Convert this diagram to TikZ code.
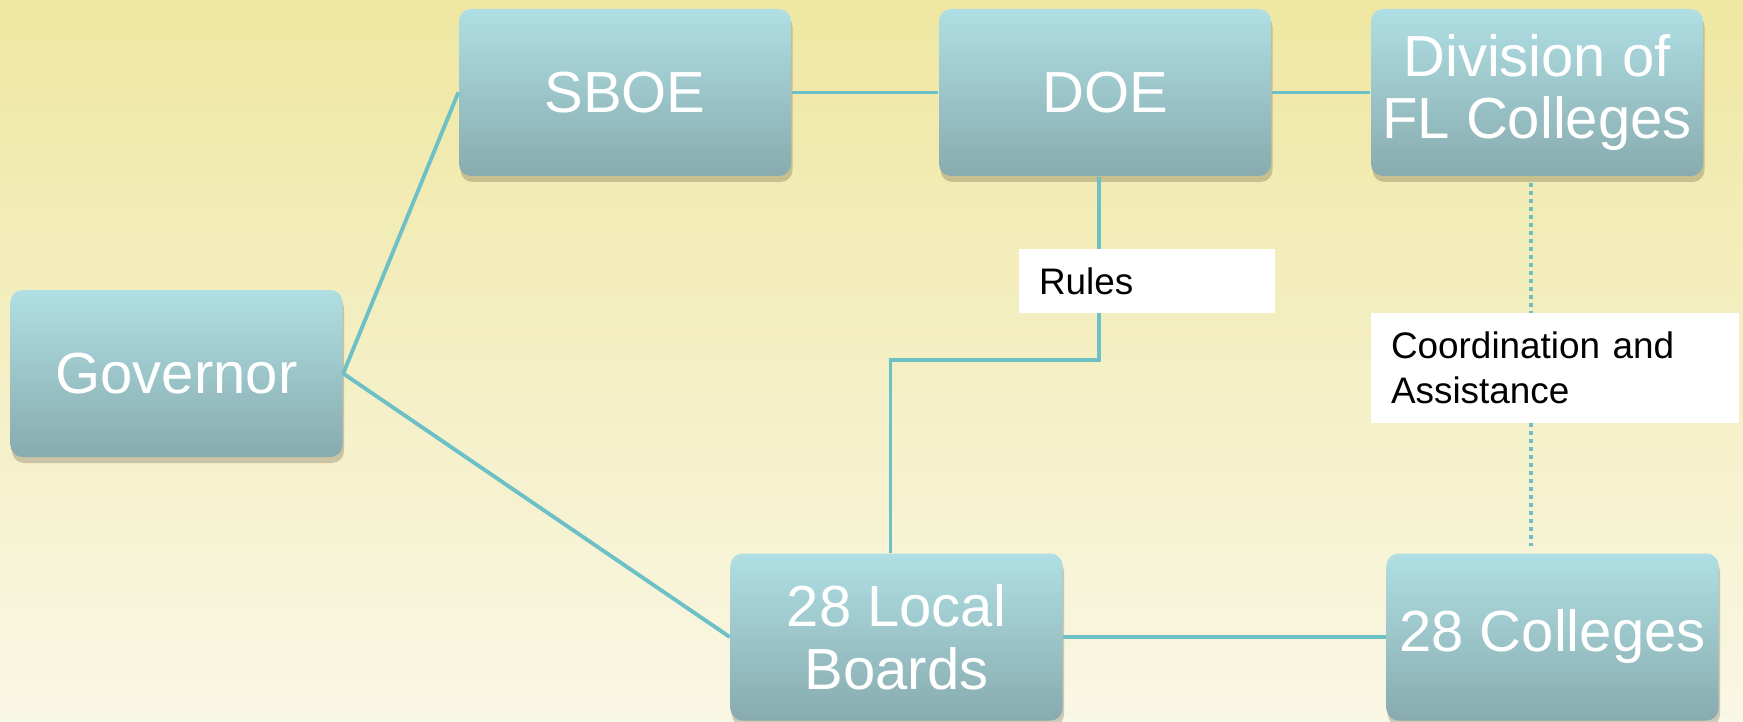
\documentclass[tikz,border=0pt]{standalone}
\usepackage{fontspec}
\setmainfont{Liberation Sans}
\usetikzlibrary{shadows}
\definecolor{bgtop}{HTML}{EFE7A2}
\definecolor{bgbot}{HTML}{F9F7E5}
\definecolor{boxtop}{HTML}{AFDFE4}
\definecolor{boxbot}{HTML}{88ABAE}
\definecolor{link}{HTML}{6DC0C6}
\begin{document}
\begin{tikzpicture}[
  unit/.style={rounded corners=0.12cm, minimum width=3.32cm, minimum height=1.67cm,
    top color=boxtop, bottom color=boxbot, text=white, align=center,
    font=\fontsize{16.5}{17.8}\selectfont, inner sep=0pt,
    drop shadow={shadow xshift=0.15mm, shadow yshift=-0.6mm, opacity=0.22, fill=black!70!brown}},
  tag/.style={fill=white, text=black, align=left, inner xsep=0.2cm, inner ysep=0pt,
    font=\fontsize{10.5}{12.8}\selectfont},
  wire/.style={draw=link, line width=1.1pt},
  dotwire/.style={draw=link, line width=1.1pt, dash pattern=on 0.04cm off 0.04cm}
]
\useasboundingbox (0,0) rectangle (17.43,7.21);
\shade[top color=bgtop, bottom color=bgbot] (0,0) rectangle (17.43,7.21);

\node[unit] (gov) at (1.765,3.475) {Governor};
\node[unit] (sboe) at (6.25,6.285) {SBOE};
\node[unit] (doe) at (11.05,6.285) {DOE};
\node[unit] (div) at (15.37,6.285) {Division of\\FL Colleges};
\node[unit] (lb) at (8.965,0.84) {28 Local\\Boards};
\node[unit] (col) at (15.525,0.84) {28 Colleges};
\coordinate (bend) at (0,3.61);

\draw[wire] (gov.east) -- (sboe.west);
\draw[wire] (gov.east) -- (lb.west);
\draw[wire] (sboe) -- (doe);
\draw[wire] (doe) -- (div);
\draw[wire] (lb) -- (col);
\draw[wire] ([xshift=-0.06cm]doe.south) -- ([xshift=-0.06cm]doe.south |- bend)
  -- ([xshift=-0.06cm]lb.north |- bend) -- ([xshift=-0.06cm]lb.north);
\draw[dotwire, shorten <=0.6mm, shorten >=0.7mm]
  ([xshift=-0.6mm]div.south) -- ([xshift=-0.6mm]div.south |- col.north);

\node[tag, text width=2.16cm, minimum height=0.64cm] (rules) at (11.47,4.40) {Rules};
\node[tag, text width=3.28cm, minimum height=1.10cm] (coord) at (15.55,3.53)
  {Coordination and\\Assistance};
\end{tikzpicture}
\end{document}
